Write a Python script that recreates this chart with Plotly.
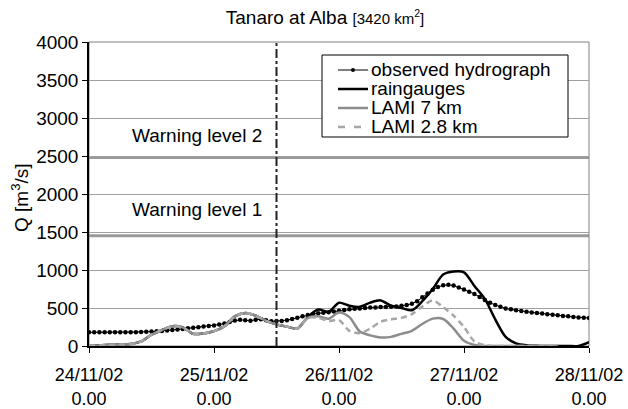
import pandas as pd
import plotly.graph_objects as go

# ---- data ----
start = "2002-11-24 00:00"
forecast_start = "2002-11-25 12:00"
warning_level_1 = 1450
warning_level_2 = 2480

observed = [180, 180, 180, 180, 180, 180, 180, 180, 181, 182,
            184, 187, 190, 194, 198, 203, 210, 217, 225, 232,
            240, 248, 255, 262, 270, 282, 295, 315, 335, 345,
            338, 332, 345, 352, 338, 326, 328, 330, 340, 355,
            372, 390, 408, 420, 430, 438, 445, 455, 465, 475,
            485, 490, 495, 500, 505, 508, 512, 514, 515, 520,
            528, 540, 555, 590, 640, 690, 740, 775, 798, 805,
            795, 770, 745, 715, 685, 645, 605, 570, 540, 515,
            495, 482, 470, 460, 450, 442, 435, 426, 418, 410,
            403, 396, 390, 383, 376, 372, 368]

# simulated series, every 2 hours from 24/11 0:00
raingauges = [5, 8, 15, 20, 25, 60, 150, 210, 260, 245,
              160, 165, 195, 260, 390, 435, 400, 330, 285, 255,
              230, 380, 480, 450, 570, 530, 515, 570, 600, 530,
              500, 470, 590, 750, 940, 980, 970, 790, 620, 350,
              120, 35, 10, 3, 0, 0, 0, 0, 50]
lami7 = [5, 8, 15, 20, 25, 60, 150, 210, 260, 245,
         160, 165, 195, 260, 390, 435, 400, 330, 285, 255,
         230, 370, 390, 360, 440, 380, 190, 140, 113, 120,
         160, 200, 290, 360, 355, 230, 70, 15, 0, 0,
         0, 0, 0, 0, 0, 0]
lami28 = [5, 8, 15, 20, 25, 60, 150, 210, 260, 245,
          160, 165, 195, 260, 390, 435, 400, 330, 285, 255,
          230, 370, 370, 330, 340, 200, 170, 230, 320, 350,
          370, 420, 520, 600, 510, 400, 250, 60, 10, 0,
          0, 0, 0, 0, 0, 0]

series_names = ["observed hydrograph", "raingauges", "LAMI 7 km", "LAMI 2.8 km"]

tick_vals = ["2002-11-24", "2002-11-25", "2002-11-26", "2002-11-27", "2002-11-28"]
tick_text = ["24/11/02<br>0.00", "25/11/02<br>0.00", "26/11/02<br>0.00",
             "27/11/02<br>0.00", "28/11/02<br>0.00"]

t_obs = pd.date_range(start, periods=len(observed), freq="1h")
t_rg = pd.date_range(start, periods=len(raingauges), freq="2h")
t_l7 = pd.date_range(start, periods=len(lami7), freq="2h")
t_l28 = pd.date_range(start, periods=len(lami28), freq="2h")

FONT = "Arial, Liberation Sans, sans-serif"
C_L7 = "#8c8c8c"
C_L28 = "#a6a6a6"

fig = go.Figure()
fig.add_trace(go.Scatter(x=t_obs, y=observed, name=series_names[0],
                         mode="lines+markers",
                         line=dict(color="black", width=1),
                         marker=dict(color="black", size=4.5)))
fig.add_trace(go.Scatter(x=t_rg, y=raingauges, name=series_names[1], mode="lines",
                         line=dict(color="black", width=2.5, shape="spline", smoothing=0.8)))
fig.add_trace(go.Scatter(x=t_l7, y=lami7, name=series_names[2], mode="lines",
                         line=dict(color=C_L7, width=2.5, shape="spline", smoothing=0.8)))
fig.add_trace(go.Scatter(x=t_l28, y=lami28, name=series_names[3], mode="lines",
                         line=dict(color=C_L28, width=2.5, dash="6px,4px",
                                   shape="spline", smoothing=0.8)))

# warning levels
for lvl in (warning_level_2, warning_level_1):
    fig.add_shape(type="line", xref="paper", x0=0, x1=1, y0=lvl, y1=lvl,
                  line=dict(color="#999999", width=3), layer="below")
fig.add_annotation(x="2002-11-24 20:40", y=2770, text="Warning level 2", showarrow=False,
                   font=dict(size=19, color="black", family=FONT))
fig.add_annotation(x="2002-11-24 20:40", y=1800, text="Warning level 1", showarrow=False,
                   font=dict(size=19, color="black", family=FONT))

# forecast start
fig.add_shape(type="line", x0=forecast_start, x1=forecast_start, yref="paper", y0=0, y1=1,
              line=dict(color="#222222", width=2, dash="dashdot"))

# plot area border
fig.add_shape(type="rect", xref="paper", yref="paper", x0=0, x1=1, y0=0, y1=1,
              line=dict(color="#808080", width=1), layer="below")

# ---- legend box (drawn in plot-area paper coordinates) ----
PL, PW, PT, PH = 89, 500, 42, 304   # plot area in px


def px(x):
    return (x - PL) / PW


def py(y):
    return (PT + PH - y) / PH


fig.add_shape(type="rect", xref="paper", yref="paper", x0=px(322), x1=px(568),
              y0=py(137), y1=py(55), line=dict(color="black", width=1),
              fillcolor="white", layer="above")
row_y = [70, 89, 108, 127]
styles = [dict(color="black", width=1), dict(color="black", width=2.5),
          dict(color=C_L7, width=2.5), dict(color=C_L28, width=2.5, dash="7px,9px")]
for name, yy, st in zip(series_names, row_y, styles):
    fig.add_shape(type="line", xref="paper", yref="paper", x0=px(338), x1=px(368),
                  y0=py(yy), y1=py(yy), line=st, layer="above")
    fig.add_annotation(xref="paper", yref="paper", x=px(369), y=py(yy), text=name,
                       showarrow=False, xanchor="left", yanchor="middle",
                       font=dict(size=19, family=FONT, color="black"))
fig.add_shape(type="circle", xref="paper", yref="paper", x0=px(351), x1=px(355),
              y0=py(row_y[0] + 2), y1=py(row_y[0] - 2), fillcolor="black",
              line=dict(color="black", width=0), layer="above")

# y axis title
fig.add_annotation(xref="paper", yref="paper", x=px(20), y=py(198),
                   text="Q [m<sup>3</sup>/s]", textangle=-90, showarrow=False,
                   xanchor="center", yanchor="middle",
                   font=dict(size=19, family=FONT, color="black"))

fig.update_layout(
    width=628, height=409,
    margin=dict(l=PL, r=628 - PL - PW, t=PT, b=409 - PT - PH),
    paper_bgcolor="white", plot_bgcolor="white",
    font=dict(family=FONT, size=18, color="black"),
    title=dict(text="Tanaro at Alba <span style='font-size:15px'>[3420 km<sup>2</sup>]</span>",
               xref="container", x=325 / 628, xanchor="center",
               y=1 - 17 / 409, yanchor="middle",
               font=dict(size=19, family=FONT)),
    showlegend=False,
)
fig.update_xaxes(range=["2002-11-24", "2002-11-28"], tickvals=tick_vals, ticktext=tick_text,
                 showgrid=False, showline=True, linecolor="black", linewidth=1.5,
                 ticks="outside", ticklen=5, tickcolor="black", zeroline=False,
                 tickfont=dict(size=18), automargin=False, ticklabelstandoff=7)
fig.update_yaxes(range=[0, 4000], dtick=500, showgrid=True, gridcolor="#a0a0a0", gridwidth=1,
                 showline=True, linecolor="black", linewidth=1.5,
                 ticks="outside", ticklen=5, tickcolor="black", zeroline=False,
                 tickfont=dict(size=19), automargin=False)

fig.write_html("out.html", config={"displayModeBar": False},
               post_script="document.body.style.margin='0';")
